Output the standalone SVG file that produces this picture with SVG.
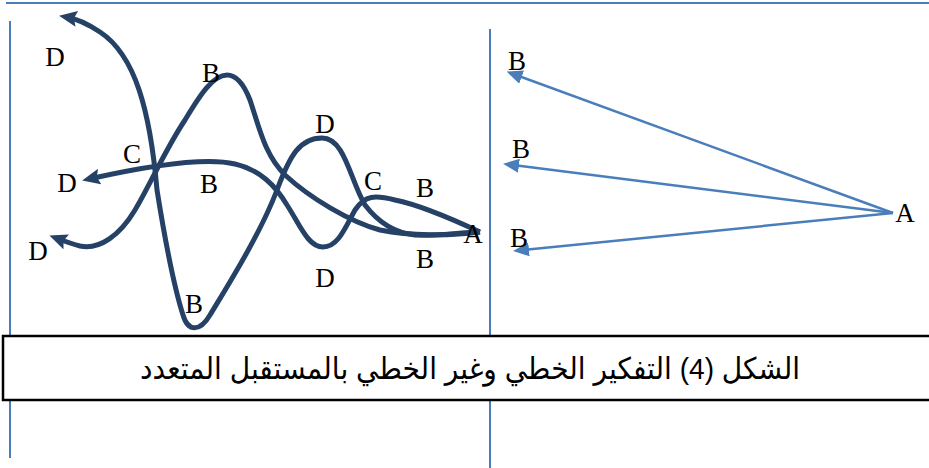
<svg xmlns="http://www.w3.org/2000/svg" width="929" height="468" viewBox="0 0 929 468">
<style>
.frame{stroke:#4A7EBB;stroke-width:2;fill:none}
.curve{stroke:#264166;stroke-width:5;fill:none;marker-end:url(#navyArrow)}
.ray{stroke:#4A7EBB;stroke-width:2.5;fill:none;marker-end:url(#blueArrow)}
.lbl{font-family:"Liberation Serif","Times New Roman",serif;font-size:27px;fill:#000;text-anchor:middle}
.cap{font-family:"Liberation Sans","DejaVu Sans","Noto Sans",sans-serif;font-size:30px;fill:#000;text-anchor:middle}
</style>
<defs>
<marker id="navyArrow" markerUnits="userSpaceOnUse" markerWidth="18" markerHeight="16" viewBox="0 0 18 16" refX="11" refY="8" orient="auto">
<path d="M0,0 L18,8 L0,16 L3,8 z" fill="#264166"/>
</marker>
<marker id="blueArrow" markerUnits="userSpaceOnUse" markerWidth="16" markerHeight="14" viewBox="0 0 16 14" refX="6" refY="7" orient="auto">
<path d="M0,0 L16,7 L0,14 z" fill="#4A7EBB"/>
</marker>
</defs>
<rect width="929" height="468" fill="#fff"/>
<g id="frame">
<line class="frame" x1="6" y1="3" x2="929" y2="3"/>
<line class="frame" x1="10" y1="21" x2="10" y2="458"/>
<line class="frame" x1="490" y1="29" x2="490" y2="468"/>
</g>
<g id="connectors">
<path id="curve1" class="curve" d="M480,232 C455,233 435,236 415,235 C395,233 378,222 365,205 C350,180 345,138 322,138 C300,138 290,155 277,190 C260,235 225,290 210,315 C200,332 188,332 183,315 C175,290 165,240 157,190 C150,110 135,55 100,32 C88,24 78,19 66,17"/>
<path id="curve2" class="curve" d="M480,232 C450,218 420,205 395,200 C375,195 365,195 355,210 C345,228 338,247 323,247 C308,247 300,225 287,205 C275,185 260,170 235,164 C210,158 165,162 89,179"/>
<path id="curve3" class="curve" d="M480,232 C450,236 410,236 380,230 C350,222 310,198 285,175 C265,155 260,130 250,100 C243,82 235,75 227,75 C213,75 200,95 185,120 C165,150 150,185 135,210 C120,235 100,250 80,246 C72,244 64,241 56,238"/>
<line id="ray1" class="ray" x1="893" y1="213" x2="516" y2="75"/>
<line id="ray2" class="ray" x1="893" y1="213" x2="513" y2="165"/>
<line id="ray3" class="ray" x1="893" y1="213" x2="523" y2="250"/>
</g>
<g id="labels-left">
<text class="lbl" x="55" y="66">D</text>
<text class="lbl" x="211" y="82">B</text>
<text class="lbl" x="132" y="163">C</text>
<text class="lbl" x="67" y="192">D</text>
<text class="lbl" x="209" y="193">B</text>
<text class="lbl" x="38" y="260">D</text>
<text class="lbl" x="194" y="313">B</text>
<text class="lbl" x="325" y="133">D</text>
<text class="lbl" x="373" y="190">C</text>
<text class="lbl" x="425" y="197">B</text>
<text class="lbl" x="473" y="243">A</text>
<text class="lbl" x="425" y="268">B</text>
<text class="lbl" x="325" y="287">D</text>
</g>
<g id="labels-right">
<text class="lbl" x="517" y="70">B</text>
<text class="lbl" x="521" y="158">B</text>
<text class="lbl" x="519" y="247">B</text>
<text class="lbl" x="905" y="222">A</text>
</g>
<g id="caption">
<rect x="3" y="336" width="940" height="64" fill="#fff" stroke="#000" stroke-width="2.5"/>
<text class="cap" x="470" y="379" direction="rtl" textLength="660" lengthAdjust="spacingAndGlyphs">الشكل (4) التفكير الخطي وغير الخطي بالمستقبل المتعدد</text>
</g>
</svg>
